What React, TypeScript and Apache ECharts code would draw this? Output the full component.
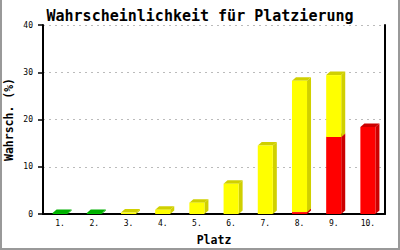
import React, { useEffect, useRef } from "react";
import * as echarts from "echarts";

const categories = ["1.", "2.", "3.", "4.", "5.", "6.", "7.", "8.", "9.", "10."];
const greenValues = [0.2, 0.2, 0, 0, 0, 0, 0, 0, 0, 0];
const redValues = [0, 0, 0, 0, 0, 0, 0, 0.4, 16.3, 18.4];
const yellowValues = [0, 0, 0.3, 0.9, 2.4, 6.4, 14.5, 27.8, 13.1, 0];
const yTicks = [0, 10, 20, 30, 40];

const FONT = "DejaVu Sans Mono";

function stackData(values: number[], bases: number[]) {
  const out: number[][] = [];
  values.forEach((v, i) => {
    if (v > 0) out.push([i, bases[i], bases[i] + v]);
  });
  return out;
}

function makeRender(front: string, dark: string) {
  return (params: any, api: any) => {
    const i = api.value(0);
    const b = api.value(1);
    const t = api.value(2);
    const p0 = api.coord([i, b]);
    const p1 = api.coord([i, t]);
    const bw = api.size([1, 0])[0] * 0.44;
    const dx = 4;
    const dy = 3.5;
    const l = p0[0] - bw / 2;
    const r = p0[0] + bw / 2;
    const yb = p0[1];
    const yt = p1[1];
    return {
      type: "group",
      children: [
        {
          type: "polygon",
          shape: { points: [[r, yt], [r + dx, yt - dy], [r + dx, yb - dy], [r, yb]] },
          style: { fill: dark },
        },
        {
          type: "polygon",
          shape: { points: [[l, yt], [l + dx, yt - dy], [r + dx, yt - dy], [r, yt]] },
          style: { fill: dark },
        },
        {
          type: "rect",
          shape: { x: l, y: yt, width: bw, height: Math.max(yb - yt, 0) },
          style: { fill: front },
        },
      ],
    };
  };
}

export default function App() {
  const ref = useRef<HTMLDivElement>(null);
  useEffect(() => {
    document.body.style.margin = "0";
    const chart = echarts.init(ref.current!, null, { renderer: "svg" });
    const zeros = categories.map(() => 0);
    const option: any = {
      animation: false,
      backgroundColor: "#ffffff",
      title: {
        text: "Wahrscheinlichkeit für Platzierung",
        left: "center",
        top: 3,
        textStyle: { fontFamily: FONT, fontSize: 15, fontWeight: "bold", color: "#000" },
      },
      grid: {
        left: 43,
        right: 15,
        top: 25,
        bottom: 36,
        containLabel: false,
        outerBoundsMode: "none",
      },
      xAxis: {
        type: "category",
        data: categories,
        name: "Platz",
        nameLocation: "middle",
        nameGap: 20,
        nameMoveOverlap: false,
        nameTextStyle: { fontFamily: FONT, fontSize: 11.5, fontWeight: "bold", color: "#000" },
        axisLine: { lineStyle: { color: "#000", width: 2 } },
        axisTick: { show: false },
        axisLabel: { fontFamily: FONT, fontSize: 8, color: "#000", margin: 5 },
      },
      yAxis: [
        {
          type: "value",
          min: 0,
          max: 40,
          interval: 10,
          name: "Wahrsch. (%)",
          nameLocation: "middle",
          nameGap: 28,
          nameMoveOverlap: false,
          nameTextStyle: { fontFamily: FONT, fontSize: 11.5, fontWeight: "bold", color: "#000" },
          axisLine: { show: true, lineStyle: { color: "#000", width: 2 } },
          axisTick: { show: true, length: 5, lineStyle: { color: "#000", width: 1.5 } },
          axisLabel: {
            fontFamily: FONT,
            fontSize: 8,
            color: "#000",
            margin: 10,
            formatter: (v: number) => (yTicks.includes(v) ? String(v) : ""),
          },
          splitLine: { show: true, lineStyle: { color: "#bbbbbb", type: [2, 4], width: 1 } },
        },
        {
          type: "value",
          position: "right",
          min: 0,
          max: 40,
          interval: 10,
          axisLine: { show: true, lineStyle: { color: "#000", width: 2 } },
          axisTick: { show: false },
          axisLabel: { show: false },
          splitLine: { show: false },
        },
      ],
      graphic: [
        {
          type: "polyline",
          shape: { points: [[1, 0], [1, 249], [399, 249], [399, 0]] },
          style: { stroke: "#999999", lineWidth: 2, fill: null },
          silent: true,
        },
      ],
      series: [
        {
          type: "custom",
          name: "green",
          renderItem: makeRender("#00cc00", "#00b000"),
          encode: { x: 0, y: 2 },
          data: stackData(greenValues, zeros),
        },
        {
          type: "custom",
          name: "red",
          renderItem: makeRender("#ff0000", "#cc0000"),
          encode: { x: 0, y: 2 },
          data: stackData(redValues, zeros),
        },
        {
          type: "custom",
          name: "yellow",
          renderItem: makeRender("#ffff00", "#d0d000"),
          encode: { x: 0, y: 2 },
          data: stackData(yellowValues, redValues),
        },
      ],
    };
    chart.setOption(option);
    return () => chart.dispose();
  }, []);
  return (
    <div
      ref={ref}
      style={{ width: 400, height: 250, position: "absolute", left: 0, top: 0 }}
    />
  );
}
